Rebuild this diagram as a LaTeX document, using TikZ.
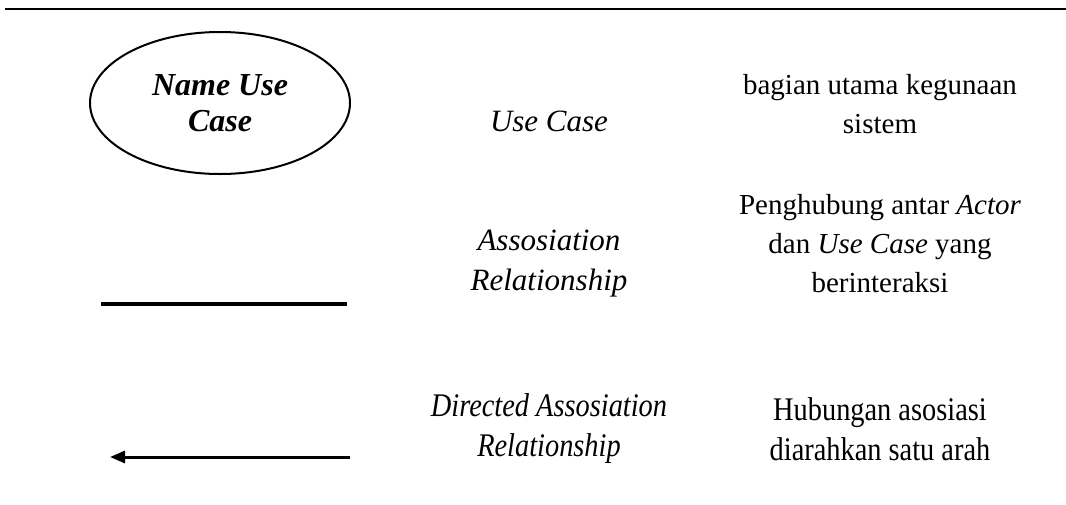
\documentclass[tikz,border=0pt]{standalone}
\usepackage{fontspec}
\setmainfont{Liberation Serif}
\newfontfamily\tallserif[FakeStretch=0.86]{Liberation Serif}
\usetikzlibrary{arrows.meta,shapes.geometric}
\tikzset{
  txt/.style={align=center,inner sep=0pt,font=\fontsize{29}{39}\selectfont},
  ctxt/.style={align=center,inner sep=0pt,font=\tallserif\fontsize{33}{40}\selectfont},
  itxt/.style={ctxt,font=\tallserif\fontsize{33}{40}\selectfont\itshape},
  wtxt/.style={align=center,inner sep=0pt,font=\fontsize{31}{40}\selectfont\itshape},
  uc/.style={draw,ellipse,line width=2pt,minimum width=260pt,minimum height=142pt,inner sep=0pt,align=center,font=\fontsize{32}{36}\selectfont\bfseries\itshape},
  rel/.style={line width=4pt},
  drel/.style={line width=3pt,-{Triangle[length=15pt,width=12pt]}}
}
\begin{document}
\begin{tikzpicture}[x=1pt,y=-1pt]
\useasboundingbox (0,0) rectangle (1066,504);
\coordinate (r1) at (5,9);
\coordinate (r2) at (1066,9);
\draw[line width=2pt] (r1) -- (r2);
\node[uc] (usecase) at (220,103) {Name Use\\Case};
\node[wtxt] (t1) at (549,121) {Use Case};
\node[txt] (d1) at (880,104) {bagian utama kegunaan\\sistem};
\coordinate (a1) at (101,304);
\coordinate (a2) at (347,304);
\draw[rel] (a1) -- (a2);
\node[wtxt] (t2) at (549,264) {Assosiation\\Relationship};
\node[txt] (d2) at (880,244) {Penghubung antar \textit{Actor}\\dan \textit{Use Case} yang\\berinteraksi};
\coordinate (b1) at (350,457);
\coordinate (b2) at (110,457);
\draw[drel] (b1) -- (b2);
\node[itxt] (t3) at (549,429) {Directed Assosiation\\Relationship};
\node[ctxt] (d3) at (880,429) {Hubungan asosiasi\\diarahkan satu arah};
\end{tikzpicture}
\end{document}
